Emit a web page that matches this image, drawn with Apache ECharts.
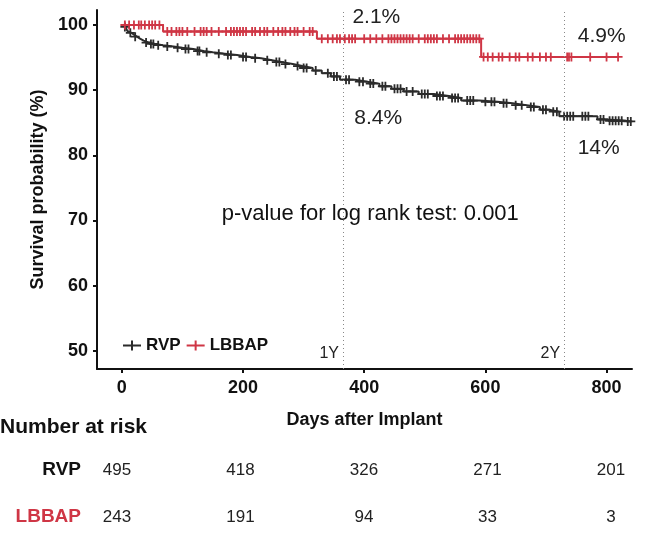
<!DOCTYPE html>
<html><head><meta charset="utf-8">
<script src="https://cdn.jsdelivr.net/npm/echarts@6/dist/echarts.min.js"></script>
<style>html,body{margin:0;padding:0;background:#fff}#c{width:666px;height:534px}</style>
</head><body><div id="c"></div>
<script>
// ---------- data ----------
const xTicks = [0, 200, 400, 600, 800];
const yTicks = [50, 60, 70, 80, 90, 100];
const seriesNames = ['RVP', 'LBBAP'];

const rvpTimes = [0,3,6,9,12,16,20,25,30,36,45,55,68,85,100,118,135,150,170,190,212,230,248,265,282,298,315,330,345,360,385,405,425,445,465,490,515,540,560,590,620,645,668,690,705,722,785,800,830];
const rvpSurv  = [100,99.7,99.4,99.1,98.8,98.5,98.2,97.9,97.6,97.3,97.1,96.9,96.7,96.5,96.3,96.0,95.8,95.6,95.4,95.1,94.9,94.6,94.3,94.0,93.7,93.4,93.0,92.6,92.1,91.6,91.3,91.0,90.6,90.2,89.8,89.4,89.1,88.8,88.4,88.2,88.0,87.7,87.4,87.0,86.7,86.0,85.5,85.3,85.2];
const rvpLastTime = 840;
const rvpCensor = [5,14,22,40,48,52,60,75,92,105,110,125,128,140,160,175,180,200,205,220,240,255,260,270,290,300,305,320,340,350,355,370,375,392,398,410,415,430,435,450,455,460,470,480,495,500,505,520,525,530,545,550,555,570,575,580,600,610,615,630,635,650,660,675,680,695,700,712,718,730,735,740,745,760,765,770,790,795,805,810,815,820,825,835,840];

const lbbapTimes = [0, 68, 322, 593];
const lbbapSurv  = [100, 99.0, 97.9, 95.1];
const lbbapLastTime = 819;
const lbbapCensor = [5,12,20,28,32,38,45,50,55,62,75,82,90,95,100,108,120,130,135,140,148,160,172,180,185,190,195,200,205,215,220,228,235,240,250,258,265,270,278,285,290,300,310,315,330,340,348,355,360,368,375,380,385,400,410,420,430,440,445,450,455,460,465,470,475,480,490,500,505,510,515,520,530,540,550,555,560,565,570,575,580,585,590,597,604,612,622,628,640,650,656,670,678,690,700,708,735,738,742,773,800,819];

const landmarkDays = [365, 730];
const landmarkLabels = ['1Y', '2Y'];
const pctLabels = ['2.1%', '8.4%', '4.9%', '14%'];
const pText = 'p-value for log rank test: 0.001';

const riskDays = [0, 200, 400, 600, 800];
const riskRVP = [495, 418, 326, 271, 201];
const riskLBBAP = [243, 191, 94, 33, 3];

// ---------- styling / build ----------
const FONT = "'Liberation Sans', Arial, Helvetica, sans-serif";
const C_RVP = '#2b2b2b';
const C_LB = '#cf3645';
const PLUS = 'path://M-1,-5H1V-1H5V1H1V5H-1V1H-5V-1H-1Z';
const PLUS_LEG = 'path://M-9,-1H-1V-5H1V-1H9V1H1V5H-1V1H-9Z';

function survAt(times, surv, t) {
  let v = surv[0];
  for (let i = 0; i < times.length; i++) if (times[i] <= t) v = surv[i];
  return v;
}
function stepData(times, surv, last) {
  const d = times.map((t, i) => [t, surv[i]]);
  d.push([last, surv[surv.length - 1]]);
  return d;
}
function censorData(times, surv, cens) {
  return cens.map(t => [t, survAt(times, surv, t)]);
}

const annPos = [[420, 101.2], [423, 85.7], [792, 98.3], [787, 81.1]];
const annData = pctLabels.map((txt, i) => ({
  value: annPos[i],
  label: { show: true, position: 'inside', formatter: txt, fontSize: 21, color: '#222', fontFamily: FONT }
}));
annData.push({ value: [410, 71.0], label: { show: true, position: 'inside', formatter: pText, fontSize: 22, color: '#111', fontFamily: FONT } });
landmarkDays.forEach((d, i) => annData.push({
  value: [d, 49.6],
  label: { show: true, position: 'left', distance: 4, formatter: landmarkLabels[i], fontSize: 16, color: '#222', fontFamily: FONT }
}));

const chart = echarts.init(document.getElementById('c'), null, { renderer: 'canvas' });
const option = {
  backgroundColor: '#fff',
  animation: false,
  textStyle: { fontFamily: FONT },
  grid: { left: 97, top: 10, width: 535, height: 359 },
  legend: {
    left: 118, top: 332, itemWidth: 18, itemHeight: 10, itemGap: 6,
    textStyle: { fontWeight: 'bold', fontSize: 17, color: '#111', fontFamily: FONT },
    data: [{ name: 'RVP', icon: PLUS_LEG }, { name: 'LBBAP', icon: PLUS_LEG }],
    selectedMode: false
  },
  xAxis: {
    type: 'value', min: -41, max: 842,
    name: 'Days after Implant', nameLocation: 'middle', nameGap: 42,
    nameTextStyle: { fontWeight: 'bold', fontSize: 18, color: '#111', fontFamily: FONT },
    axisLine: { onZero: false, lineStyle: { color: '#111', width: 2 } },
    axisTick: { show: true, length: 4, lineStyle: { color: '#111', width: 2 }, customValues: xTicks },
    axisLabel: { margin: 10, fontWeight: 'bold', fontSize: 18, color: '#111', customValues: xTicks, fontFamily: FONT },
    splitLine: { show: false }
  },
  yAxis: {
    type: 'value', min: 47.2, max: 102.3,
    name: 'Survival probability (%)', nameLocation: 'middle', nameGap: 42,
    nameTextStyle: { fontWeight: 'bold', fontSize: 18, color: '#111', fontFamily: FONT },
    axisLine: { onZero: false, lineStyle: { color: '#111', width: 2 } },
    axisTick: { show: true, length: 4, lineStyle: { color: '#111', width: 2 }, customValues: yTicks },
    axisLabel: { margin: 9, fontWeight: 'bold', fontSize: 18, color: '#111', customValues: yTicks, fontFamily: FONT },
    splitLine: { show: false }
  },
  series: [
    {
      name: seriesNames[0], type: 'line', step: 'end', showSymbol: false, silent: true, z: 3,
      data: stepData(rvpTimes, rvpSurv, rvpLastTime),
      lineStyle: { color: C_RVP, width: 2 }, itemStyle: { color: C_RVP },
      markLine: {
        silent: true, symbol: 'none', label: { show: false },
        lineStyle: { type: [1, 3], color: '#888', width: 1 },
        data: landmarkDays.map(d => ({ xAxis: d }))
      }
    },
    {
      name: seriesNames[0], type: 'scatter', silent: true, z: 4, symbol: PLUS, symbolSize: 9,
      data: censorData(rvpTimes, rvpSurv, rvpCensor), itemStyle: { color: C_RVP, opacity: 1 }
    },
    {
      name: seriesNames[1], type: 'line', step: 'end', showSymbol: false, silent: true, z: 3,
      data: stepData(lbbapTimes, lbbapSurv, lbbapLastTime),
      lineStyle: { color: C_LB, width: 2 }, itemStyle: { color: C_LB }
    },
    {
      name: seriesNames[1], type: 'scatter', silent: true, z: 4, symbol: PLUS, symbolSize: 9,
      data: censorData(lbbapTimes, lbbapSurv, lbbapCensor), itemStyle: { color: C_LB, opacity: 1 }
    },
    {
      name: 'annotations', type: 'scatter', silent: true, symbolSize: 0, z: 5,
      itemStyle: { opacity: 1 },
      data: annData
    }
  ]
};
chart.setOption(option);

// number-at-risk table
const g = [];
g.push({ type: 'text', left: 0, top: 417, style: { text: 'Number at risk', font: "bold 21px " + FONT, fill: '#111' } });
const rowY = [470, 517];
const rowLabels = seriesNames;
const rowColors = ['#111', C_LB];
const rowVals = [riskRVP, riskLBBAP];
const px0 = chart.convertToPixel({ xAxisIndex: 0 }, 0);
rowY.forEach((y, r) => {
  g.push({ type: 'text', x: 81, y: y, style: { text: rowLabels[r], font: "bold 19px " + FONT, fill: rowColors[r], textAlign: 'right', textVerticalAlign: 'middle' } });
  riskDays.forEach((d, i) => {
    const px = chart.convertToPixel({ xAxisIndex: 0 }, d);
    const x = 117 + (px - px0) * 1.019;
    g.push({ type: 'text', x: x, y: y, style: { text: String(rowVals[r][i]), font: "17px " + FONT, fill: '#222', textAlign: 'center', textVerticalAlign: 'middle' } });
  });
});
chart.setOption({ graphic: g });
</script>
</body></html>
